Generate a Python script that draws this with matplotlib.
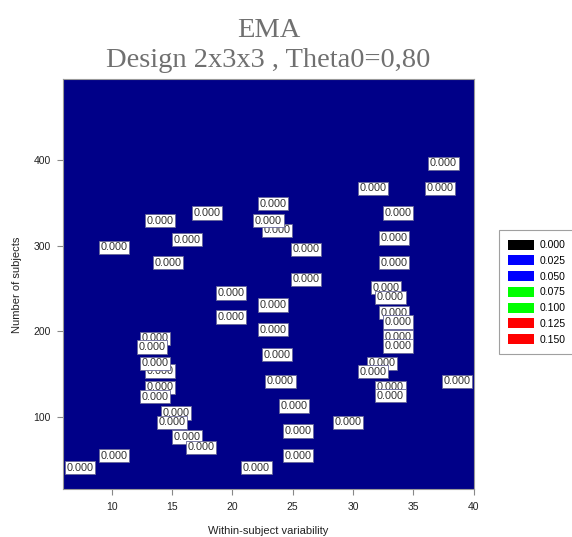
import numpy as np
import matplotlib.pyplot as plt
from matplotlib.patches import Patch

# label positions (within-subject variability, number of subjects) and values
x_vals = [7.4, 10.2, 13.6, 13.35, 14.0, 13.6, 14.0, 13.6, 15.35, 15.0,
          16.25, 17.4, 14.0, 17.9, 10.2, 16.25, 14.7, 23.4, 23.7, 23.0,
          26.1, 26.1, 19.9, 23.4, 19.9, 23.4, 23.7, 24.0, 25.1, 25.45,
          25.45, 22.0, 29.6, 37.5, 31.65, 37.2, 33.7, 33.4, 33.4, 32.75,
          33.1, 33.4, 33.7, 33.7, 33.7, 32.4, 31.65, 33.1, 33.1, 38.6]
y_vals = [41, 55, 192, 182, 154, 163, 135, 124, 105, 94,
          77, 65, 329, 338, 298, 307, 280, 349, 318, 329,
          296, 261, 245, 231, 217, 202, 173, 142, 113, 84,
          55, 41, 94, 396, 367, 367, 338, 309, 280, 251,
          240, 222, 211, 194, 183, 163, 153, 135, 125, 142]
cell_vals = [0.0] * len(x_vals)

legend_levels = ["0.000", "0.025", "0.050", "0.075", "0.100", "0.125", "0.150"]
legend_colors = ["#000000", "#0000ff", "#0000ff", "#00ff00", "#00ff00", "#ff0000", "#ff0000"]

fig = plt.figure(figsize=(5.72, 5.37), dpi=100)
ax = fig.add_axes([0.1107, 0.0888, 0.7175, 0.7635])
ax.set_facecolor("#000088")

for x, y, v in zip(x_vals, y_vals, cell_vals):
    ax.text(x, y, f"{v:.3f}", fontsize=7.8, family="Liberation Sans", color="#333333",
            ha="center", va="center",
            bbox=dict(boxstyle="square,pad=0.15", fc="white", ec="#666699", lw=0.6))

ax.set_xlim(6, 40)
ax.set_ylim(16, 494)
ax.set_xticks([10, 15, 20, 25, 30, 35, 40])
ax.set_yticks([100, 200, 300, 400])
ax.tick_params(labelsize=7.5, colors="#888888", labelcolor="#222222", length=4, pad=5)
for lab in ax.get_xticklabels() + ax.get_yticklabels():
    lab.set_family("Liberation Sans")
for s in ax.spines.values():
    s.set_color("#999999")
    s.set_linewidth(0.8)

ax.set_xlabel("Within-subject variability", fontsize=8, family="Liberation Sans",
              color="#222222", labelpad=10)
ax.set_ylabel("Number of subjects", fontsize=8, family="Liberation Sans",
              color="#222222", labelpad=8)

ax.set_title("EMA\nDesign 2x3x3 , Theta0=0,80", fontsize=20.5, family="Liberation Serif",
             color="#707070", pad=9, linespacing=1.25)

handles = [Patch(facecolor=c, edgecolor="none") for c in legend_colors]
leg = fig.legend(handles, legend_levels, loc="center left", bbox_to_anchor=(0.863, 0.456),
                 frameon=True, fancybox=False, handlelength=2.5,
                 handleheight=1.1, labelspacing=0.5, borderpad=0.9, handletextpad=0.55,
                 prop={"family": "Liberation Sans", "size": 7.5})
leg.get_frame().set_edgecolor("#888888")
leg.get_frame().set_linewidth(0.8)

fig.savefig("out.png", dpi=100)
